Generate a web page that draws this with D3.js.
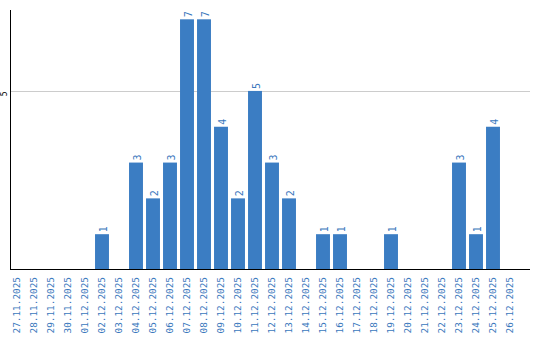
<!DOCTYPE html>
<html>
<head>
<meta charset="utf-8">
<script src="https://cdn.jsdelivr.net/npm/d3@7"></script>
<style>
  body { margin: 0; background: #fff; }
  svg text { font-family: "DejaVu Sans Mono", monospace; }
</style>
</head>
<body>
<script>
// data
const dates = ['27.11.2025', '28.11.2025', '29.11.2025', '30.11.2025', '01.12.2025',
  '02.12.2025', '03.12.2025', '04.12.2025', '05.12.2025', '06.12.2025',
  '07.12.2025', '08.12.2025', '09.12.2025', '10.12.2025', '11.12.2025',
  '12.12.2025', '13.12.2025', '14.12.2025', '15.12.2025', '16.12.2025',
  '17.12.2025', '18.12.2025', '19.12.2025', '20.12.2025', '21.12.2025',
  '22.12.2025', '23.12.2025', '24.12.2025', '25.12.2025', '26.12.2025'];
const counts = [0, 0, 0, 0, 0, 1, 0, 3, 2, 3, 7, 7, 4, 2, 5, 3, 2, 0, 1, 1, 0, 0, 1, 0, 0, 0, 3, 1, 4, 0];
const yTicks = [5];

const W = 540, H = 340;
const barColor = '#3b7dc3';
const textColor = '#3a78bd';

const svg = d3.select('body').append('svg')
  .attr('width', W)
  .attr('height', H);

const x = d3.scaleBand()
  .domain(dates)
  .range([8.5, 518.5])
  .paddingInner(0.18)
  .paddingOuter(0.09);

const y = d3.scaleLinear()
  .domain([0, 7.26])
  .range([270, 10]);

// grid
svg.append('g')
  .selectAll('line')
  .data(yTicks)
  .enter().append('line')
  .attr('x1', 11).attr('x2', 530)
  .attr('y1', d => Math.round(y(d)) + 0.5)
  .attr('y2', d => Math.round(y(d)) + 0.5)
  .attr('stroke', '#cccccc');

// y tick labels
svg.append('g')
  .selectAll('text')
  .data(yTicks)
  .enter().append('text')
  .attr('transform', d => `translate(4,${y(d) + 3}) rotate(-90)`)
  .attr('text-anchor', 'middle')
  .attr('dy', '0.35em')
  .style('font-size', '8px')
  .attr('fill', '#000')
  .text(d => d);

// bars
const data = dates.map((d, i) => ({ date: d, value: counts[i] }));

svg.append('g')
  .selectAll('rect')
  .data(data.filter(d => d.value > 0))
  .enter().append('rect')
  .attr('x', d => x(d.date))
  .attr('y', d => y(d.value))
  .attr('width', x.bandwidth())
  .attr('height', d => y(0) - y(d.value))
  .attr('fill', barColor);

// value labels
svg.append('g')
  .selectAll('text')
  .data(data.filter(d => d.value > 0))
  .enter().append('text')
  .attr('transform', d => `translate(${x(d.date) + x.bandwidth() / 2 + 1},${y(d.value) - 2}) rotate(-90)`)
  .attr('dy', '0.35em')
  .attr('text-anchor', 'start')
  .style('font-size', '10px')
  .attr('fill', textColor)
  .text(d => d.value);

// axes lines
svg.append('line')
  .attr('x1', 10.5).attr('x2', 10.5)
  .attr('y1', 10).attr('y2', 270)
  .attr('stroke', '#000');

svg.append('line')
  .attr('x1', 10).attr('x2', 530)
  .attr('y1', 269.5).attr('y2', 269.5)
  .attr('stroke', '#000');

// x labels
svg.append('g')
  .selectAll('text')
  .data(dates)
  .enter().append('text')
  .attr('transform', d => `translate(${x(d) + x.bandwidth() / 2},277) rotate(-90)`)
  .attr('text-anchor', 'end')
  .attr('dy', '0.35em')
  .style('font-size', '9.4px')
  .attr('fill', textColor)
  .text(d => d);
</script>
</body>
</html>
